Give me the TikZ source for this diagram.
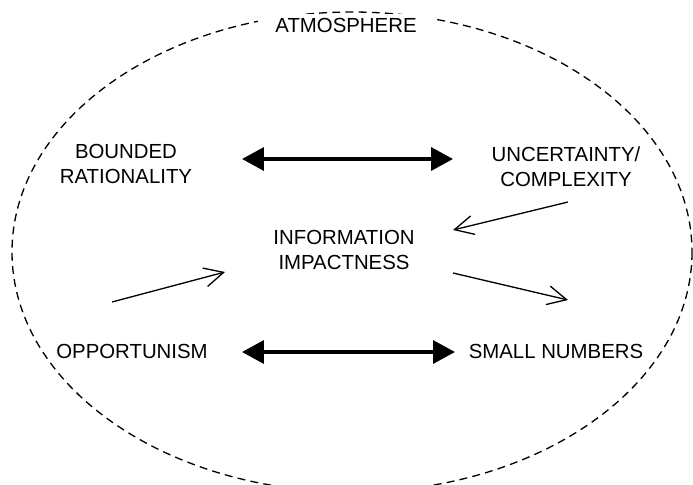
\documentclass[tikz,border=0pt]{standalone}
\usepackage{fontspec}
\setmainfont{Liberation Sans}
\usetikzlibrary{arrows.meta}
\begin{document}
\begin{tikzpicture}[x=0.02cm,y=-0.02cm,
  label/.style={font=\fontsize{11.6}{14.2}\selectfont, align=center, inner sep=2pt},
  boundary/.style={draw, line width=0.75pt, dash pattern=on 4.5pt off 3pt},
  bigarrow/.style={line width=2pt, {Triangle[length=0.44cm,width=0.46cm]}-{Triangle[length=0.44cm,width=0.46cm]}},
  thinarrow/.style={line width=0.75pt, -{Straight Barb[length=0.38cm,width=0.38cm,line width=0.75pt]}}]
  \useasboundingbox (0,0) rectangle (693,484);
  % dashed boundary of the atmosphere
  \begin{scope}
    \clip (0,0) rectangle (693,484);
    \draw[boundary] (352,252) ellipse [x radius=340, y radius=240];
  \end{scope}
  \node[label, fill=white, inner xsep=0.34cm] (atm) at (346,25) {ATMOSPHERE};
  % factors
  \node[label] (br) at (126,164) {BOUNDED\\RATIONALITY};
  \node[label] (uc) at (566,167) {UNCERTAINTY/\\COMPLEXITY};
  \node[label] (info) at (344,250) {INFORMATION\\IMPACTNESS};
  \node[label] (opp) at (132,351) {OPPORTUNISM};
  \node[label] (small) at (556,351) {SMALL NUMBERS};
  % connector ends
  \coordinate (brR) at (242,159);
  \coordinate (ucL) at (453,159);
  \coordinate (oppR) at (242,352);
  \coordinate (smallL) at (455,352);
  \coordinate (ucOut) at (568,202);
  \coordinate (infoIn) at (453,230);
  \coordinate (infoOut) at (453,273);
  \coordinate (smallIn) at (568,300);
  \coordinate (oppOut) at (112,302);
  \coordinate (infoInL) at (225,272);
  % connectors
  \draw[bigarrow] (brR) -- (ucL);
  \draw[bigarrow] (oppR) -- (smallL);
  \draw[thinarrow] (ucOut) -- (infoIn);
  \draw[thinarrow] (infoOut) -- (smallIn);
  \draw[thinarrow] (oppOut) -- (infoInL);
\end{tikzpicture}
\end{document}
